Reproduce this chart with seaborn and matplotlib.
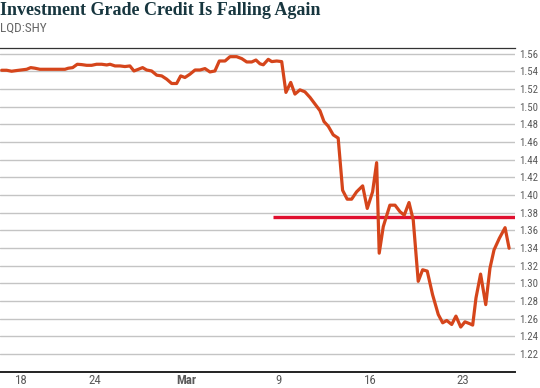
import numpy as np
import pandas as pd
import matplotlib
matplotlib.use('Agg')
import matplotlib.pyplot as plt
import seaborn as sns
import logging

logging.getLogger('matplotlib.font_manager').setLevel(logging.ERROR)

# ── Данные: LQD/SHY, позиции в торговых днях ─────────────────────────────────
day = [
    -0.05, 0.22, 0.49, 0.77, 1.04, 1.31, 1.53, 1.76, 2.03, 2.40, 2.76, 3.12,
    3.39, 3.57, 3.81, 4.06, 4.30, 4.57, 4.84, 5.11, 5.39, 5.66, 5.84, 6.11,
    6.38, 6.65, 6.92, 7.14, 7.38, 7.61, 7.83, 8.10, 8.38, 8.65, 8.92, 9.19,
    9.46, 9.68, 9.91, 10.18, 10.46, 10.73, 11.00, 11.27, 11.54, 11.78, 12.09,
    12.36, 12.72, 13.00, 13.27, 13.54, 13.77, 13.99, 14.17, 14.44, 14.63,
    14.90, 15.17, 15.40, 15.66, 15.89, 16.16, 16.43, 16.71, 16.98, 17.25,
    17.47, 17.70, 17.97, 18.24, 18.48, 18.73, 18.97, 19.24, 19.57, 19.82,
    20.11, 20.33, 20.47, 20.69, 21.05, 21.33, 21.60, 21.83, 22.09, 22.32,
    22.59, 22.83, 23.08, 23.37, 23.68, 23.92, 24.14, 24.41, 24.64, 24.90,
    25.13, 25.40, 25.55, 25.73, 25.98, 26.26, 26.49, 26.71, 27.00, 27.31,
    27.53,
]
ratio = [
    1.5414, 1.5414, 1.5403, 1.5411, 1.5418, 1.5425, 1.5444, 1.5437, 1.5425,
    1.5425, 1.5425, 1.5425, 1.5425, 1.5437, 1.5444, 1.5482, 1.5478, 1.5470,
    1.5470, 1.5482, 1.5482, 1.5474, 1.5482, 1.5463, 1.5463, 1.5456, 1.5463,
    1.5406, 1.5425, 1.5444, 1.5417, 1.5406, 1.5358, 1.5350, 1.5313, 1.5264,
    1.5264, 1.5350, 1.5332, 1.5369, 1.5417, 1.5417, 1.5433, 1.5395, 1.5406,
    1.5519, 1.5519, 1.5568, 1.5568, 1.5546, 1.5508, 1.5508, 1.5530, 1.5487,
    1.5476, 1.5538, 1.5512, 1.5519, 1.5512, 1.5163, 1.5276, 1.5144, 1.5192,
    1.5170, 1.5106, 1.5031, 1.4956, 1.4832, 1.4780, 1.4682, 1.4645, 1.4054,
    1.3953, 1.3953, 1.4036, 1.4104, 1.3848, 1.4036, 1.4367, 1.3341, 1.3642,
    1.3885, 1.3885, 1.3811, 1.3772, 1.3915, 1.3716, 1.3022, 1.3153, 1.3138,
    1.2871, 1.2646, 1.2552, 1.2578, 1.2533, 1.2628, 1.2504, 1.2563, 1.2541,
    1.2526, 1.2834, 1.3104, 1.2758, 1.3172, 1.3378, 1.3510, 1.3630, 1.3397,
]

tick_days   = [1, 5, 10, 15, 20, 25]
tick_labels = ['18', '24', 'Mar', '9', '16', '23']
y_ticks     = np.round(np.arange(1.22, 1.561, 0.02), 2)

level       = 1.375   # красная горизонтальная линия
level_start = 14.7

df = pd.DataFrame({'day': day, 'ratio': ratio})

# ── Оформление ───────────────────────────────────────────────────────────────
sns.set_style('white')
# узкий шрифт для подписей, если есть
NARROW = ['Liberation Sans Narrow', 'Roboto Condensed', 'Roboto', 'DejaVu Sans']
plt.rcParams['font.family'] = NARROW

LINE_COLOR = '#d5451b'
RED        = '#e0102f'
GRID       = '#c4c4c4'
TEXT       = '#5a5a5a'

fig = plt.figure(figsize=(5.4, 3.88), dpi=100)
ax = fig.add_axes([0.0, 0.0425, 0.9537, 0.8335])

ax.set_xlim(-0.14, 27.85)
ax.set_ylim(1.20, 1.5665)

for v in y_ticks:
    ax.axhline(v, color=GRID, lw=1.0, zorder=0)

ax.hlines(level, level_start, 27.85, color=RED, lw=2.4, zorder=3)

sns.lineplot(data=df, x='day', y='ratio', color=LINE_COLOR, lw=2.3,
             ax=ax, zorder=4)

ax.set_xlabel('')
ax.set_ylabel('')
ax.yaxis.tick_right()
ax.set_yticks(y_ticks)
ax.set_yticklabels([f'{v:.2f}' for v in y_ticks])
ax.set_xticks(tick_days)
ax.set_xticklabels(tick_labels)
ax.tick_params(axis='y', length=0, pad=3, labelsize=7.8, labelcolor=TEXT)
ax.tick_params(axis='x', length=0, pad=1.5, labelsize=9.3, labelcolor=TEXT)
ax.get_xticklabels()[2].set_fontweight('bold')

for side in ['left', 'right']:
    ax.spines[side].set_visible(False)
ax.spines['bottom'].set_color('#222222')
ax.spines['bottom'].set_linewidth(1.4)
ax.spines['top'].set_color('#333333')
ax.spines['top'].set_linewidth(0.9)

fig.text(0.0, 0.972, 'Investment Grade Credit Is Falling Again',
         family=['Liberation Serif', 'DejaVu Serif'], fontweight='bold',
         fontsize=13, color='#17363f', va='center', ha='left')
fig.text(0.0, 0.928, 'LQD:SHY', family=NARROW,
         fontsize=9.5, color='#666666', va='center', ha='left')

fig.savefig('out.png', dpi=100)
